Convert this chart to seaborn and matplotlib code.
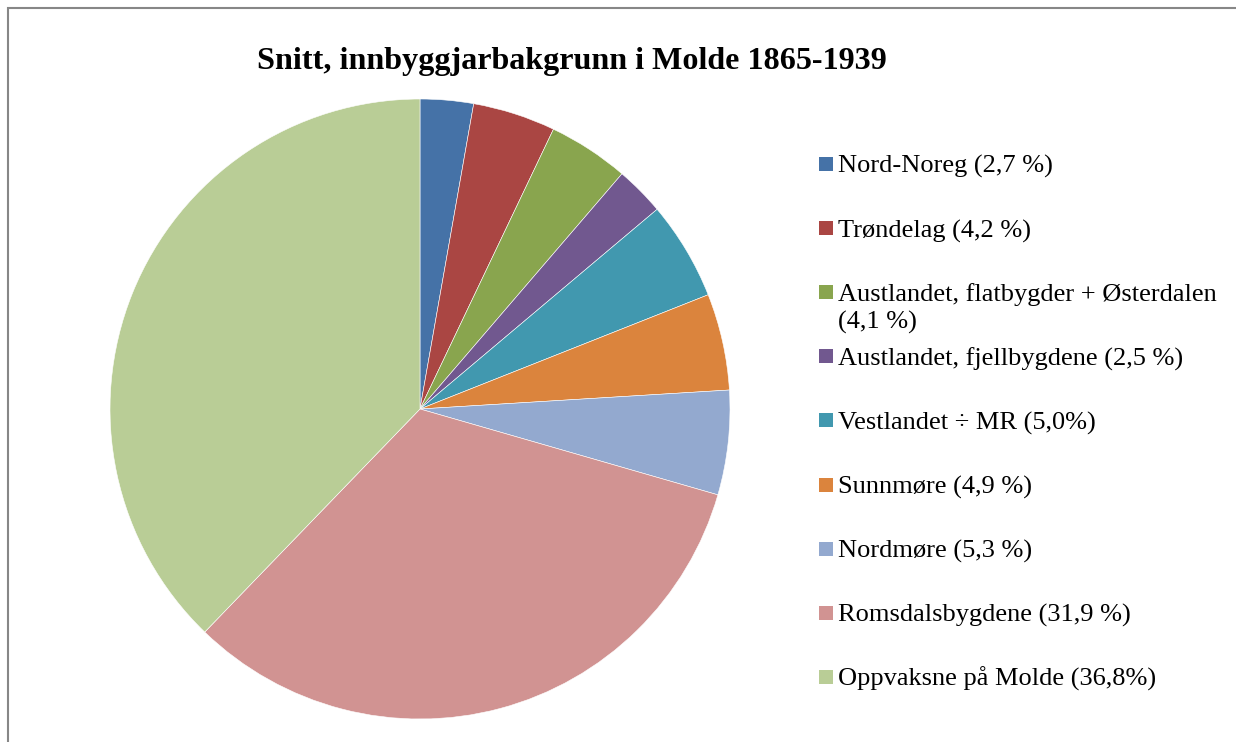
import matplotlib.pyplot as plt
import seaborn as sns
from matplotlib.patches import Rectangle

# Data
regions = ['Nord-Noreg (2,7 %)', 'Trøndelag (4,2 %)',
           'Austlandet, flatbygder + Østerdalen\n(4,1 %)',
           'Austlandet, fjellbygdene (2,5 %)', 'Vestlandet ÷ MR (5,0%)',
           'Sunnmøre (4,9 %)', 'Nordmøre (5,3 %)',
           'Romsdalsbygdene (31,9 %)', 'Oppvaksne på Molde (36,8%)']
shares = [2.7, 4.2, 4.1, 2.5, 5.0, 4.9, 5.3, 31.9, 36.8]
colors = ['#4572A7', '#AA4643', '#89A54E', '#71588F', '#4198AF',
          '#DB843D', '#93A9CF', '#D19392', '#B9CD96']

sns.set_theme(style='white')
plt.rcParams['font.family'] = ['Liberation Serif', 'DejaVu Serif']
plt.rcParams['text.color'] = 'black'

W, H = 1236, 742
fig = plt.figure(figsize=(W / 100, H / 100), dpi=100)

# pie axes: centre (420, 409), radius 310 px
cx, cy, r = 420, 409, 310
ax = fig.add_axes([(cx - r) / W, (H - cy - r) / H, 2 * r / W, 2 * r / H])
ax.pie(shares, colors=colors, startangle=90, counterclock=False,
       wedgeprops=dict(edgecolor='white', linewidth=0.4))
ax.set_xlim(-1, 1)
ax.set_ylim(-1, 1)
ax.set_aspect('equal')

# title
fig.text(572 / W, 1 - 69 / H, 'Snitt, innbyggjarbakgrunn i Molde 1865-1939',
         ha='center', va='baseline', fontsize=23.1, fontweight='bold')

# legend, Excel style: fixed row pitch, wrapped text spills into the gap
y0, pitch, line_h = 164, 64.1, 27
for i, (lab, col) in enumerate(zip(regions, colors)):
    y = y0 + i * pitch
    fig.patches.append(Rectangle((819 / W, 1 - (y + 7) / H), 14 / W, 14 / H,
                                 transform=fig.transFigure, facecolor=col,
                                 edgecolor='none'))
    for k, part in enumerate(lab.split('\n')):
        fig.text(838 / W, 1 - (y + 9 + k * line_h) / H, part, ha='left',
                 va='baseline', fontsize=19)

# chart frame
fig.patches.append(Rectangle((8 / W, -0.05), 1.1, 1 - 8 / H + 0.05,
                             transform=fig.transFigure, facecolor='none',
                             edgecolor='#878787', linewidth=1.5))

fig.savefig('out.png', dpi=100)
